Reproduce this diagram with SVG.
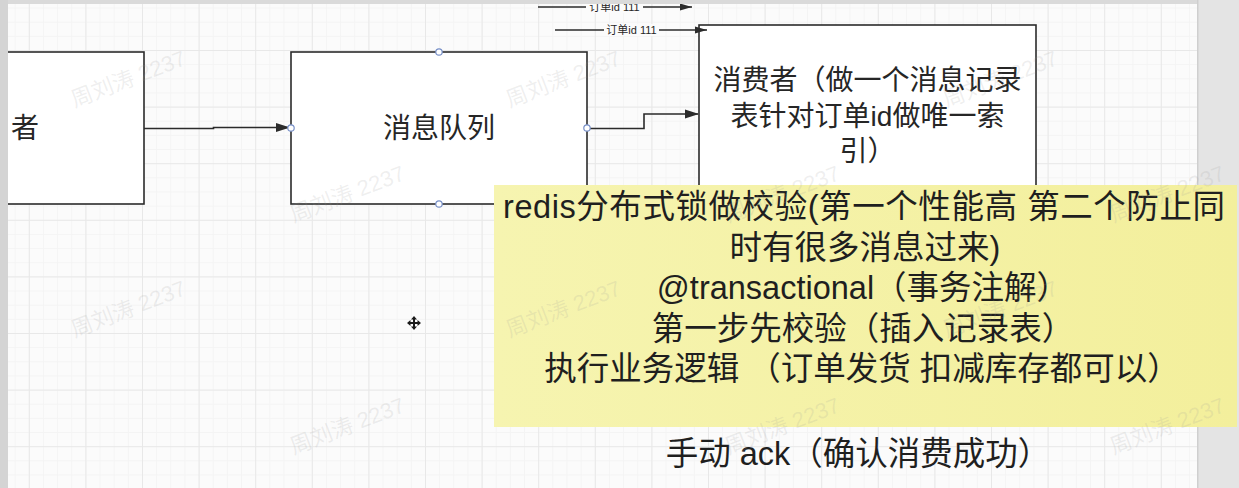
<svg xmlns="http://www.w3.org/2000/svg" width="1239" height="488" viewBox="0 0 1239 488">
<style>
.box{fill:#ffffff;stroke:#2b2b2b;stroke-width:1.6}
.lbl{font-family:"Liberation Sans","Noto Sans CJK SC",sans-serif;fill:#262626}
.big{font-size:28px;text-anchor:middle}
.note{font-size:32.5px;text-anchor:middle;fill:#1f1f1f}
.small{font-size:11px;text-anchor:middle}
.edge{fill:none;stroke:#2b2b2b;stroke-width:1.6}
.port{fill:#ffffff;stroke:#7890c8;stroke-width:1.2}
.wm{font-family:"Liberation Sans","Noto Sans CJK SC",sans-serif;font-size:22px;fill:#9a9a9a;fill-opacity:0.16;text-anchor:middle}
</style>
<defs>
<pattern id="minor" x="28.8" y="50" width="14.15" height="14.15" patternUnits="userSpaceOnUse">
<path d="M0 0.5 H14.15 M0.5 0 V14.15" fill="none" stroke="#f4f4f4" stroke-width="1"/>
</pattern>
<pattern id="major" x="28.8" y="50" width="56.6" height="56.6" patternUnits="userSpaceOnUse">
<path d="M0 0.5 H56.6 M0.5 0 V56.6" fill="none" stroke="#e8e8e8" stroke-width="1"/>
</pattern>
<linearGradient id="noteFill" x1="0" y1="0" x2="1" y2="0">
<stop offset="0" stop-color="#f6f4b0"/>
<stop offset="1" stop-color="#f3ef9c"/>
</linearGradient>
<marker id="arr" viewBox="0 0 14 10" refX="13" refY="5" markerWidth="14" markerHeight="10" markerUnits="userSpaceOnUse" orient="auto">
<path d="M0 0.5 L14 5 L0 9.5 Z" fill="#2b2b2b"/>
</marker>
<marker id="arrs" viewBox="0 0 12 8" refX="12" refY="4" markerWidth="12" markerHeight="8" markerUnits="userSpaceOnUse" orient="auto">
<path d="M0 0.5 L12 4 L0 7.5 Z" fill="#2b2b2b"/>
</marker>
</defs>

<!-- canvas background and grid -->
<rect x="0" y="0" width="1239" height="488" fill="#fbfbfb"/>
<rect x="0" y="0" width="1239" height="488" fill="url(#minor)"/>
<rect x="0" y="0" width="1239" height="488" fill="url(#major)"/>

<!-- nodes -->
<g id="node-producer">
<rect class="box" x="-4" y="52" width="148" height="152"/>
<text class="lbl" x="11" y="138" font-size="28">者</text>
</g>

<g id="node-queue">
<rect class="box" x="291" y="52" width="296" height="152"/>
<text class="lbl big" x="439" y="138">消息队列</text>
</g>

<g id="node-consumer">
<rect class="box" x="699" y="25" width="337" height="180"/>
<text class="lbl big" x="867.5" y="90">消费者（做一个消息记录</text>
<text class="lbl big" x="867.5" y="126">表针对订单id做唯一索</text>
<text class="lbl big" x="867.5" y="161">引）</text>
</g>

<!-- connectors -->
<g id="connectors">
<path class="edge" d="M144 128.5 H213.5 V127.5 H289" marker-end="url(#arr)"/>
<path class="edge" d="M587 128.5 H644 V114 H698" marker-end="url(#arr)"/>
<path class="edge" d="M538 7 H692" marker-end="url(#arrs)"/>
<rect x="586" y="1" width="57" height="12" fill="#fbfbfb"/>
<text class="lbl small" x="614.5" y="11">订单id 111</text>
<path class="edge" d="M555 30 H707" marker-end="url(#arrs)"/>
<rect x="604" y="24" width="55" height="12" fill="#fbfbfb"/>
<text class="lbl small" x="631.5" y="34">订单id 111</text>
<circle class="port" cx="439" cy="52" r="3.2"/>
<circle class="port" cx="291" cy="128" r="3.2"/>
<circle class="port" cx="587" cy="128" r="3.2"/>
<circle class="port" cx="439" cy="204" r="3.2"/>
</g>

<g id="node-ack">
<text class="lbl note" x="858" y="465" font-size="33">手动 ack（确认消费成功）</text>
</g>

<!-- move cursor -->
<g id="cursor" fill="#1a1a1a">
<path d="M414 316 L417 319.5 H415 V322 H417.5 V320 L421 323 L417.5 326 V324 H415 V326.5 H417 L414 330 L411 326.5 H413 V324 H410.5 V326 L407 323 L410.5 320 V322 H413 V319.5 H411 Z"/>
</g>

<!-- window chrome -->
<rect x="0" y="0" width="1239" height="4" fill="#dadada"/>
<rect x="0" y="0" width="8" height="488" fill="#d4d4d4"/>
<rect x="1198" y="0" width="41" height="488" fill="#e4e4e4"/>
<rect x="1197" y="0" width="1.5" height="488" fill="#cfcfcf"/>

<g id="node-note">
<rect x="494" y="185" width="743" height="242" fill="url(#noteFill)"/>
<text class="lbl note" x="864" y="218" textLength="722" lengthAdjust="spacing">redis分布式锁做校验(第一个性能高 第二个防止同</text>
<text class="lbl note" x="865" y="258.5">时有很多消息过来)</text>
<text class="lbl note" x="863" y="299">@transactional（事务注解）</text>
<text class="lbl note" x="863" y="339.5">第一步先校验（插入记录表）</text>
<text class="lbl note" x="862" y="380">执行业务逻辑 （订单发货 扣减库存都可以）</text>
</g>

<!-- watermarks -->
<g id="watermarks">
<text class="wm" transform="translate(131 86) rotate(-21)">周刘涛 2237</text>
<text class="wm" transform="translate(566 86) rotate(-21)">周刘涛 2237</text>
<text class="wm" transform="translate(1003 86) rotate(-21)">周刘涛 2237</text>
<text class="wm" transform="translate(350 201) rotate(-21)">周刘涛 2237</text>
<text class="wm" transform="translate(785 201) rotate(-21)">周刘涛 2237</text>
<text class="wm" transform="translate(1170 201) rotate(-21)">周刘涛 2237</text>
<text class="wm" transform="translate(131 316) rotate(-21)">周刘涛 2237</text>
<text class="wm" transform="translate(566 316) rotate(-21)">周刘涛 2237</text>
<text class="wm" transform="translate(1003 316) rotate(-21)">周刘涛 2237</text>
<text class="wm" transform="translate(350 433) rotate(-21)">周刘涛 2237</text>
<text class="wm" transform="translate(785 433) rotate(-21)">周刘涛 2237</text>
<text class="wm" transform="translate(1170 433) rotate(-21)">周刘涛 2237</text>
</g>
</svg>
